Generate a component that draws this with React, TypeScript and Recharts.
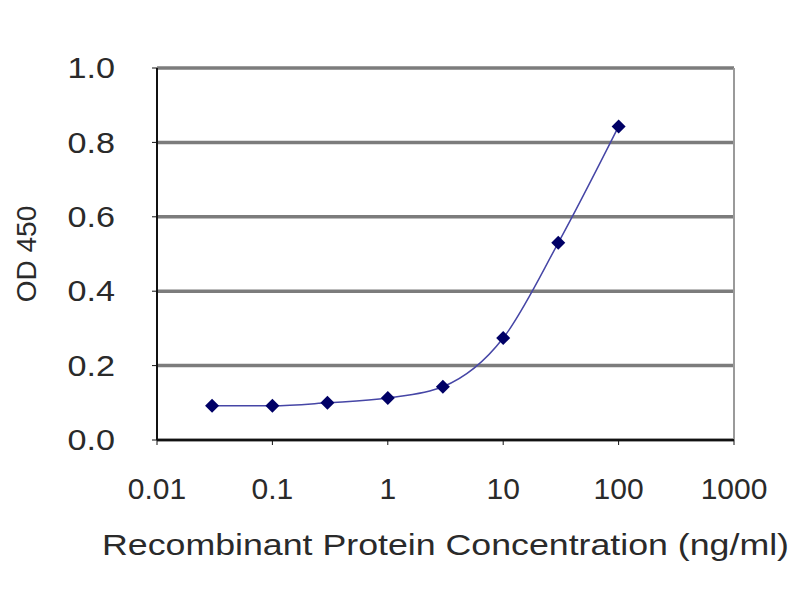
import React from "react";
import {
  LineChart,
  Line,
  XAxis,
  YAxis,
  CartesianGrid,
  ReferenceLine,
} from "recharts";

const concentrations = [0.03, 0.1, 0.3, 1, 3, 10, 30, 100];
const od450 = [0.092, 0.092, 0.1, 0.113, 0.143, 0.274, 0.53, 0.843];
const xTicks = [0.01, 0.1, 1, 10, 100, 1000];
const yTicks = [0, 0.2, 0.4, 0.6, 0.8, 1.0];

const data = concentrations.map((c, i) => ({ conc: c, od: od450[i] }));

const FONT = "'Liberation Sans', Arial, sans-serif";
const TEXT = "#2a2a2a";

function Diamond(props: any) {
  const { cx, cy, index } = props;
  if (cx == null || cy == null) return null;
  const s = 7;
  return (
    <path
      key={"d" + index}
      d={`M${cx},${cy - s}L${cx + s},${cy}L${cx},${cy + s}L${cx - s},${cy}Z`}
      fill="#000066"
    />
  );
}

// y labels in the picture are a little wider than plain Arial
function YTick(props: any) {
  const { x, y, payload } = props;
  return (
    <text
      x={0}
      y={0}
      transform={`translate(${x},${y}) scale(1.14,1)`}
      textAnchor="end"
      dominantBaseline="central"
      fontSize={30}
      fontFamily={FONT}
      fill={TEXT}
    >
      {Number(payload.value).toFixed(1)}
    </text>
  );
}

function XTitle(props: any) {
  const vb = props.viewBox;
  return (
    <text
      x={vb.x + vb.width / 2}
      y={vb.y + 115}
      textAnchor="middle"
      fontSize={29}
      fontFamily={FONT}
      fill={TEXT}
      textLength={687}
      lengthAdjust="spacingAndGlyphs"
    >
      Recombinant Protein Concentration (ng/ml)
    </text>
  );
}

function YTitle() {
  return (
    <text
      x={26}
      y={254}
      transform="rotate(-90, 26, 254)"
      textAnchor="middle"
      dominantBaseline="central"
      fontSize={28}
      fontFamily={FONT}
      fill={TEXT}
    >
      OD 450
    </text>
  );
}

export default function App() {
  return (
    <div style={{ position: "absolute", top: 0, left: 0, background: "#fff" }}>
      <LineChart
        width={800}
        height={600}
        data={data}
        margin={{ top: 68, right: 66, bottom: 0, left: 0 }}
      >
        <CartesianGrid
          horizontal
          vertical={false}
          stroke="#7c7c7c"
          strokeWidth={3.5}
        />
        <XAxis
          dataKey="conc"
          type="number"
          scale="log"
          domain={[0.01, 1000]}
          ticks={xTicks}
          allowDataOverflow
          height={160}
          tickSize={5}
          tickMargin={33}
          tickFormatter={(v) => String(v)}
          tick={{ fontSize: 30, fill: TEXT, fontFamily: FONT }}
          axisLine={{ stroke: "#111", strokeWidth: 2 }}
          tickLine={{ stroke: "#111" }}
          label={<XTitle />}
        />
        <YAxis
          type="number"
          domain={[0, 1]}
          ticks={yTicks}
          width={157}
          tickSize={5}
          tickMargin={37}
          tick={<YTick />}
          axisLine={{ stroke: "#111", strokeWidth: 2 }}
          tickLine={{ stroke: "#111" }}
          label={<YTitle />}
        />
        <ReferenceLine x={1000} stroke="#9a9a9a" strokeWidth={2} />
        <Line
          dataKey="od"
          type="monotone"
          stroke="#4646a6"
          strokeWidth={1.5}
          dot={<Diamond />}
          activeDot={false}
          isAnimationActive={false}
        />
      </LineChart>
    </div>
  );
}
